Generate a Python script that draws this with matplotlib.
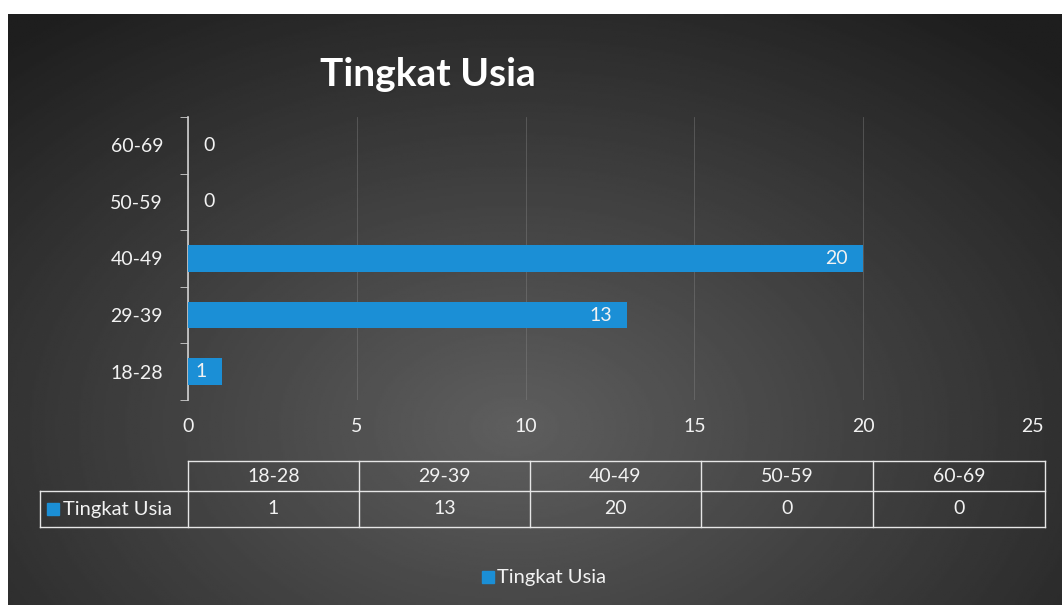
import matplotlib.pyplot as plt
import numpy as np

# data
categories = ['18-28', '29-39', '40-49', '50-59', '60-69']
values = [1, 13, 20, 0, 0]
series_name = 'Tingkat Usia'
xticks = [0, 5, 10, 15, 20, 25]

W, H = 1062, 605
bar_color = '#1b8fd6'
txt = '#f2f2f2'
plt.rcParams['font.family'] = ['Lato', 'DejaVu Sans']

def fx(px):
    return px / W

def fy(py):
    return 1 - py / H

fig = plt.figure(figsize=(W / 100, H / 100), dpi=100)
fig.patch.set_facecolor('white')

# dark radial background
bg = fig.add_axes([fx(8), 0, 1 - fx(8), fy(14)])
yy, xx = np.mgrid[0:1:300j, 0:1:500j]
r = np.sqrt(((xx - 0.48) / 0.75) ** 2 + ((yy - 0.3) / 0.9) ** 2)
shade = np.clip(0.37 - 0.26 * r, 0.12, 0.37)
bg.imshow(shade, cmap='gray', vmin=0, vmax=1, aspect='auto', extent=[0, 1, 0, 1], origin='lower')
bg.axis('off')

# main plot
ax = fig.add_axes([fx(188), fy(400), fx(1032) - fx(188), fy(117) - fy(400)])
ax.set_facecolor('none')
ypos = np.arange(len(categories))
bars = ax.barh(ypos, values, height=0.47, color=bar_color, zorder=3)
ax.set_xlim(0, 25)
ax.set_ylim(-0.5, len(categories) - 0.5)
ax.set_xticks(xticks)
ax.set_yticks(ypos)
ax.set_yticklabels(categories)
ax.set_yticks(np.arange(-0.5, len(categories), 1), minor=True)
ax.tick_params(axis='y', which='major', length=0, pad=18, labelsize=14, labelcolor=txt)
ax.tick_params(axis='y', which='minor', length=6, color='#d0d0d0', direction='out')
ax.tick_params(axis='x', length=0, pad=13, labelsize=14, labelcolor=txt)
ax.grid(axis='x', color='#8a8a8a', linewidth=0.6, alpha=0.45, zorder=0)
for s in ['top', 'right', 'bottom']:
    ax.spines[s].set_visible(False)
ax.spines['left'].set_color('#d0d0d0')
ax.spines['left'].set_linewidth(1.2)

for b, v in zip(bars, values):
    yc = b.get_y() + b.get_height() / 2
    if v > 0:
        ax.text(v - 0.45, yc, str(v), ha='right', va='center', color=txt, fontsize=14, zorder=4)
    else:
        ax.text(0.45, yc, str(v), ha='left', va='center', color=txt, fontsize=14, zorder=4)

# title
fig.text(fx(430), fy(88), 'Tingkat Usia', ha='center', va='baseline', fontsize=28,
         fontweight='bold', color='#303030')
fig.text(fx(428), fy(86), 'Tingkat Usia', ha='center', va='baseline', fontsize=28,
         fontweight='bold', color='white')

# data table
col_edges = [188, 359, 530, 701, 873, 1045]
y_top, y_mid, y_bot = 461, 491, 527
lx0 = 40
lc = '#e6e6e6'
fig.add_artist(plt.Line2D([fx(188), fx(1045)], [fy(y_top)] * 2, color=lc, lw=1))
fig.add_artist(plt.Line2D([fx(lx0), fx(1045)], [fy(y_mid)] * 2, color=lc, lw=1))
fig.add_artist(plt.Line2D([fx(lx0), fx(1045)], [fy(y_bot)] * 2, color=lc, lw=1))
fig.add_artist(plt.Line2D([fx(lx0)] * 2, [fy(y_mid), fy(y_bot)], color=lc, lw=1))
for xe in col_edges:
    fig.add_artist(plt.Line2D([fx(xe)] * 2, [fy(y_top), fy(y_bot)], color=lc, lw=1))
for i, (c, v) in enumerate(zip(categories, values)):
    xc = (col_edges[i] + col_edges[i + 1]) / 2
    fig.text(fx(xc), fy((y_top + y_mid) / 2), c, ha='center', va='center', color=txt, fontsize=14)
    fig.text(fx(xc), fy((y_mid + y_bot) / 2), str(v), ha='center', va='center', color=txt, fontsize=14)
fig.add_artist(plt.Rectangle((fx(47), fy(515)), fx(12), fy(503) - fy(515), color=bar_color))
fig.text(fx(63), fy(509), series_name, ha='left', va='center', color=txt, fontsize=14.5)

# legend
fig.add_artist(plt.Rectangle((fx(482), fy(583)), fx(12), fy(571) - fy(583), color=bar_color))
fig.text(fx(497), fy(577), series_name, ha='left', va='center', color=txt, fontsize=14.5)

fig.savefig('out.png', dpi=100, facecolor=fig.get_facecolor())
